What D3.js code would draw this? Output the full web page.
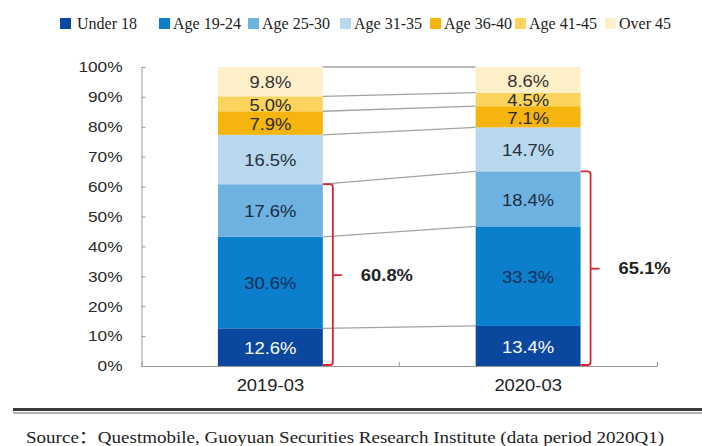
<!DOCTYPE html>
<html lang="en">
<head>
<meta charset="UTF-8">
<title>User age structure 2019-03 vs 2020-03</title>
<script src="https://cdn.jsdelivr.net/npm/d3@7"></script>
<style>
    body { margin: 0; background: #fff; }
    .sans { font-family: "Liberation Sans", Arial, sans-serif; }
    .serif { font-family: "Liberation Serif", "Times New Roman", "Noto Sans CJK SC", serif; }
</style>
</head>
<body>
<svg width="702" height="446"></svg>
<script>
    // data (percent)
    const periods = ["2019-03", "2020-03"];
    const groups = ["Under 18", "Age 19-24", "Age 25-30", "Age 31-35", "Age 36-40", "Age 41-45", "Over 45"];
    const share2019 = [12.6, 30.6, 17.6, 16.5, 7.9, 5.0, 9.8];
    const share2020 = [13.4, 33.3, 18.4, 14.7, 7.1, 4.5, 8.6];
    const yTicks = [0, 10, 20, 30, 40, 50, 60, 70, 80, 90, 100];
    const youngGroups = 3; // under 18 .. 25-30 are bracketed

    const colors = ["#0a489f", "#0b7fcc", "#6db2e0", "#b7d8ee", "#f6b40e", "#fbd45e", "#fdf0c8"];
    const labelColors = ["#ffffff", "#0f2e58", "#1c2c3e", "#26303a", "#2a2a2a", "#2a2a2a", "#333333"];
    const stretch = "scale(1.15,1)"; // the picture's text is a bit wide

    const svg = d3.select("svg");

    const rows = periods.map((p, i) => {
        const vals = i === 0 ? share2019 : share2020;
        const r = { period: p };
        groups.forEach((g, j) => r[g] = vals[j]);
        return r;
    });
    const series = d3.stack().keys(groups)(rows);

    const x = d3.scaleBand()
        .domain(periods)
        .range([141.5, 657])
        .paddingInner(0.593)
        .paddingOuter(0.2965);
    const bw = x.bandwidth();

    const y = d3.scaleLinear().domain([0, 100]).range([366, 67]);

    // legend
    const legendX = [60, 159, 248, 340, 430, 515, 605];
    const legend = svg.append("g").attr("class", "serif");
    groups.forEach((g, i) => {
        legend.append("rect")
            .attr("x", legendX[i]).attr("y", 18)
            .attr("width", 11).attr("height", 11)
            .attr("fill", colors[i]);
        legend.append("text")
            .attr("x", legendX[i] + (i === 0 ? 17 : 14))
            .attr("y", 28.5)
            .attr("font-size", 16)
            .attr("fill", "#222")
            .text(g);
    });

    // left axis, ticks pointing inward
    const yAxis = svg.append("g")
        .attr("class", "sans")
        .attr("transform", "translate(141.5,0)")
        .call(d3.axisLeft(y).tickValues(yTicks).tickSizeInner(-4).tickSizeOuter(0).tickFormat(d => d + "%"));
    yAxis.select(".domain").attr("stroke", "#9a9a9a");
    yAxis.selectAll(".tick line").attr("stroke", "#9a9a9a");
    yAxis.selectAll(".tick text")
        .attr("x", -16.5)
        .attr("transform", stretch)
        .attr("font-size", 15)
        .attr("fill", "#2a2a2a")
        .attr("font-family", "Liberation Sans, Arial, sans-serif");

    // bottom axis with ticks at the band edges
    const xAxis = svg.append("g")
        .attr("class", "sans")
        .attr("transform", "translate(0,366)")
        .call(d3.axisBottom(x).tickSizeInner(0).tickSizeOuter(-4).tickPadding(14));
    xAxis.select(".domain").attr("stroke", "#9a9a9a");
    xAxis.selectAll(".tick text")
        .attr("transform", stretch)
        .attr("font-size", 16)
        .attr("fill", "#222")
        .attr("font-family", "Liberation Sans, Arial, sans-serif");
    const mid = x.range()[0] + x.step();
    xAxis.append("line")
        .attr("x1", mid).attr("x2", mid)
        .attr("y1", 0).attr("y2", -4)
        .attr("stroke", "#9a9a9a");

    // connector lines between the bars
    const links = svg.append("g");
    series.forEach(s => {
        links.append("line")
            .attr("x1", x(periods[0]) + bw).attr("y1", y(s[0][1]))
            .attr("x2", x(periods[1])).attr("y2", y(s[1][1]))
            .attr("stroke", "#a3a3a3")
            .attr("stroke-width", 1.3);
    });

    // stacked bars
    const layers = svg.append("g").selectAll("g")
        .data(series)
        .join("g")
        .attr("fill", (d, i) => colors[i]);
    layers.selectAll("rect")
        .data(d => d)
        .join("rect")
        .attr("x", d => x(d.data.period))
        .attr("y", d => y(d[1]))
        .attr("height", d => y(d[0]) - y(d[1]))
        .attr("width", bw);

    // segment labels
    series.forEach((s, i) => {
        s.forEach(d => {
            const cx = x(d.data.period) + bw / 2;
            const cy = (y(d[0]) + y(d[1])) / 2 + 1;
            svg.append("text")
                .attr("class", "sans")
                .attr("transform", `translate(${cx},${cy}) ${stretch}`)
                .attr("text-anchor", "middle")
                .attr("dy", "0.36em")
                .attr("font-size", 16)
                .attr("fill", labelColors[i])
                .text(d.data[s.key].toFixed(1) + "%");
        });
    });

    // red brackets for the under-30 share
    periods.forEach((p, i) => {
        const vals = i === 0 ? share2019 : share2020;
        const total = d3.sum(vals.slice(0, youngGroups));
        const xr = x(p) + bw;
        const xv = xr + 10;
        const yt = y(total), yb = y(0) - 1;
        const ym = y(total / 2);
        svg.append("path")
            .attr("d", `M${xr},${yt} H${xv - 3} Q${xv},${yt} ${xv},${yt + 3} V${yb - 3} Q${xv},${yb} ${xv - 3},${yb} H${xr}`)
            .attr("fill", "none")
            .attr("stroke", "#d8262c")
            .attr("stroke-width", 1.8);
        svg.append("line")
            .attr("x1", xv).attr("x2", xv + 9)
            .attr("y1", ym).attr("y2", ym)
            .attr("stroke", "#d8262c")
            .attr("stroke-width", 1.8);
        svg.append("text")
            .attr("class", "sans")
            .attr("transform", `translate(${xv + 28},${ym}) ${stretch}`)
            .attr("dy", "0.36em")
            .attr("font-size", 16)
            .attr("font-weight", "bold")
            .attr("fill", "#222")
            .text(total.toFixed(1) + "%");
    });

    // double rule and source note
    svg.append("rect")
        .attr("x", 13).attr("y", 408)
        .attr("width", 689).attr("height", 3)
        .attr("fill", "#3a3a3a");
    svg.append("rect")
        .attr("x", 13).attr("y", 412.5)
        .attr("width", 689).attr("height", 1)
        .attr("fill", "#6a6a6a");
    svg.append("text")
        .attr("class", "serif")
        .attr("transform", "translate(26,443) scale(1.12,1)")
        .attr("font-size", 17)
        .attr("fill", "#222")
        .text("Source：Questmobile, Guoyuan Securities Research Institute (data period 2020Q1)");
</script>
</body>
</html>
